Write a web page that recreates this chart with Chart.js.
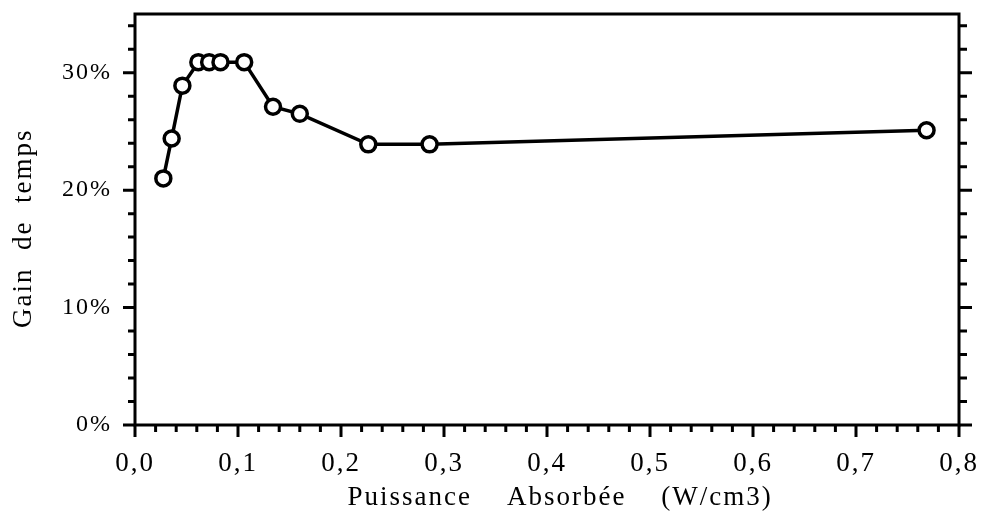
<!DOCTYPE html>
<html>
<head>
<meta charset="utf-8">
<script src="https://cdn.jsdelivr.net/npm/chart.js@4"></script>
<style>
  html, body { margin: 0; padding: 0; background: #fff; }
  #gain-chart { display: block; }
</style>
</head>
<body>
<canvas id="gain-chart" width="981" height="517"></canvas>
<script>
// Gain de temps vs puissance absorbée
const absorbedPower = [0.0275, 0.0356, 0.046, 0.0615, 0.072, 0.083, 0.106, 0.134, 0.160, 0.2265, 0.286, 0.7685];
const timeGain = [21.0, 24.4, 28.9, 30.9, 30.9, 30.9, 30.9, 27.1, 26.5, 23.9, 23.9, 25.1];

const xMajorTicks = [0, 0.1, 0.2, 0.3, 0.4, 0.5, 0.6, 0.7, 0.8];
const xTickLabels = ['0,0', '0,1', '0,2', '0,3', '0,4', '0,5', '0,6', '0,7', '0,8'];
const yMajorTicks = [0, 10, 20, 30];
const yTickLabels = ['0%', '10%', '20%', '30%'];
const xMinorStep = 0.02;
const yMinorStep = 2;

const serif = 'Liberation Serif';

function isNear(a, b) {
    return Math.abs(a - b) < 1e-6;
}

// drop the label overflow padding so the plot box keeps its size
function noOverflow(scale) {
    scale.paddingLeft = 0;
    scale.paddingRight = 0;
    scale.paddingTop = 0;
    scale.paddingBottom = 0;
}

// wide letter spacing on every label
const spacedText = {
    id: 'spacedText',
    beforeLayout(chart) { chart.ctx.letterSpacing = '2px'; },
    beforeDraw(chart) { chart.ctx.letterSpacing = '2px'; }
};

// box frame plus outward tick marks (bottom, left and right)
const axisFrame = {
    id: 'axisFrame',
    afterDraw(chart) {
        const { ctx, chartArea: a } = chart;
        const x = chart.scales.x;
        const y = chart.scales.y;
        ctx.save();
        ctx.strokeStyle = '#000';
        ctx.lineWidth = 3;
        ctx.strokeRect(a.left, a.top, a.right - a.left, a.bottom - a.top);

        ctx.beginPath();
        for (let i = 0; i * xMinorStep <= x.max + 1e-9; i++) {
            const v = i * xMinorStep;
            const major = xMajorTicks.some(t => isNear(t, v));
            const px = x.getPixelForValue(v);
            ctx.moveTo(px, a.bottom);
            ctx.lineTo(px, a.bottom + (major ? 12 : 7));
        }
        for (let v = y.min; v <= y.max; v += yMinorStep) {
            const major = yMajorTicks.includes(v);
            const py = y.getPixelForValue(v);
            ctx.moveTo(a.left, py);
            ctx.lineTo(a.left - (major ? 12 : 7), py);
            ctx.moveTo(a.right, py);
            ctx.lineTo(a.right + (major ? 13 : 8), py);
        }
        ctx.stroke();
        ctx.restore();
    }
};

new Chart(document.getElementById('gain-chart'), {
    type: 'line',
    data: {
        datasets: [{
            data: absorbedPower.map((p, i) => ({ x: p, y: timeGain[i] })),
            borderColor: '#000',
            borderWidth: 3.5,
            tension: 0,
            pointRadius: 7.5,
            pointBorderWidth: 3.5,
            pointBackgroundColor: '#fff',
            pointBorderColor: '#000'
        }]
    },
    options: {
        responsive: false,
        animation: false,
        layout: { padding: { top: 14, right: 22, left: 0, bottom: 0 } },
        plugins: {
            legend: { display: false },
            tooltip: { enabled: false }
        },
        scales: {
            x: {
                type: 'linear',
                min: 0,
                max: 0.8,
                afterFit: (scale) => { scale.height = 92; noOverflow(scale); },
                afterBuildTicks: (scale) => { scale.ticks = xMajorTicks.map(v => ({ value: v })); },
                grid: { display: false, drawTicks: false },
                border: { display: false },
                ticks: {
                    padding: 23,
                    color: '#000',
                    font: { family: serif, size: 27 },
                    maxRotation: 0,
                    callback: (v) => {
                        const i = xMajorTicks.findIndex(t => isNear(t, v));
                        return i >= 0 ? xTickLabels[i] : '';
                    }
                },
                title: {
                    display: true,
                    text: '   Puissance    Absorbée    (W/cm3)',
                    color: '#000',
                    font: { family: serif, size: 27 },
                    padding: { top: 0, bottom: 3 }
                }
            },
            y: {
                min: 0,
                max: 35,
                afterFit: (scale) => { scale.width = 135; noOverflow(scale); },
                afterBuildTicks: (scale) => { scale.ticks = yMajorTicks.map(v => ({ value: v })); },
                grid: { display: false, drawTicks: false },
                border: { display: false },
                ticks: {
                    padding: 23,
                    color: '#000',
                    font: { family: serif, size: 24 },
                    callback: (v) => {
                        const i = yMajorTicks.indexOf(v);
                        return i >= 0 ? yTickLabels[i] : '';
                    }
                },
                title: {
                    display: true,
                    text: 'Gain  de  temps  ',
                    color: '#000',
                    font: { family: serif, size: 27 },
                    padding: { top: 8, bottom: 0 }
                }
            }
        }
    },
    plugins: [spacedText, axisFrame]
});
</script>
</body>
</html>
